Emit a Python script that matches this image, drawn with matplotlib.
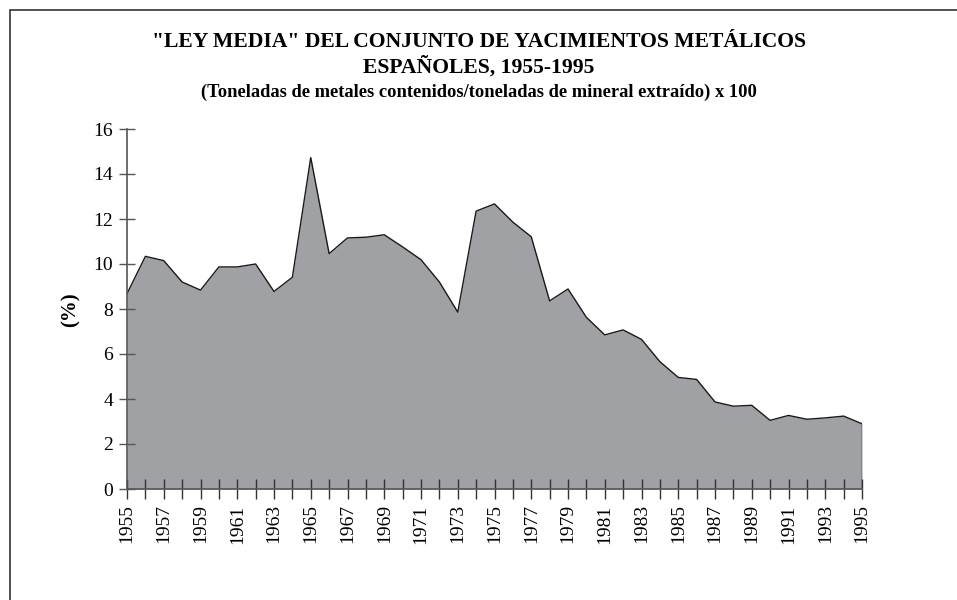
import matplotlib
matplotlib.use("Agg")
import matplotlib.pyplot as plt
from matplotlib.patches import Rectangle

# Ley media (%) por año
years = list(range(1955, 1996))
ley = [8.68, 10.34, 10.15, 9.20, 8.84, 9.87, 9.87, 10.00, 8.78, 9.41,
       14.73, 10.46, 11.16, 11.19, 11.30, 10.76, 10.19, 9.20, 7.86, 12.35,
       12.67, 11.86, 11.21, 8.36, 8.89, 7.63, 6.85, 7.07, 6.65, 5.66,
       4.96, 4.87, 3.87, 3.68, 3.72, 3.05, 3.27, 3.10, 3.16, 3.24,
       2.90]
yticks = [0, 2, 4, 6, 8, 10, 12, 14, 16]
xlabels = years[::2]

title1 = '"LEY MEDIA" DEL CONJUNTO DE YACIMIENTOS METÁLICOS'
title2 = 'ESPAÑOLES, 1955-1995'
subtitle = '(Toneladas de metales contenidos/toneladas de mineral extraído) x 100'

plt.rcParams['font.family'] = ['Liberation Serif', 'DejaVu Serif']

fig = plt.figure(figsize=(9.57, 6), dpi=100)
ax = fig.add_axes([127/957, 1 - 489/600, (862 - 127)/957, (489 - 129)/600])

# frame around the whole chart
fig.patches.append(Rectangle((10/957, -0.1), 1.2, 1 - 10/600 + 0.1,
                             transform=fig.transFigure, fill=False,
                             edgecolor='#333333', linewidth=1.2))

ax.fill_between(years, ley, 0, color='#a0a1a5', linewidth=0)
ax.plot(years, ley, color='#1a1a1a', linewidth=1.0)
ax.plot([years[-1], years[-1]], [0, ley[-1]], color='#1a1a1a', linewidth=1.0)

ax.set_xlim(1955, 1995)
ax.set_ylim(0, 16)
ax.set_yticks(yticks)
ax.set_xticks(years)
ax.set_xticklabels([str(y) if y in xlabels else '' for y in years],
                   rotation=90, fontsize=14)
ax.tick_params(axis='y', labelsize=14, direction='inout', length=12,
               width=1, color='#555555', pad=4)
ax.tick_params(axis='x', direction='inout', length=14, width=1,
               color='#333333', pad=4)

for s in ['top', 'right']:
    ax.spines[s].set_visible(False)
ax.spines['left'].set_color('#555555')
ax.spines['bottom'].set_color('#555555')
ax.spines['left'].set_linewidth(1.2)
ax.spines['bottom'].set_linewidth(1.2)

# y axis label placed by hand
fig.text(71/957, 1 - 310/600, '(%)', rotation=90, ha='center', va='center',
         fontsize=15, fontweight='bold')

fig.text(0.5, 1 - 47/600, title1, ha='center', va='baseline',
         fontsize=15.6, fontweight='bold')
fig.text(0.5, 1 - 73/600, title2, ha='center', va='baseline',
         fontsize=15.6, fontweight='bold')
fig.text(0.5, 1 - 97/600, subtitle, ha='center', va='baseline',
         fontsize=13.3, fontweight='bold')

plt.savefig('out.png', dpi=100)
